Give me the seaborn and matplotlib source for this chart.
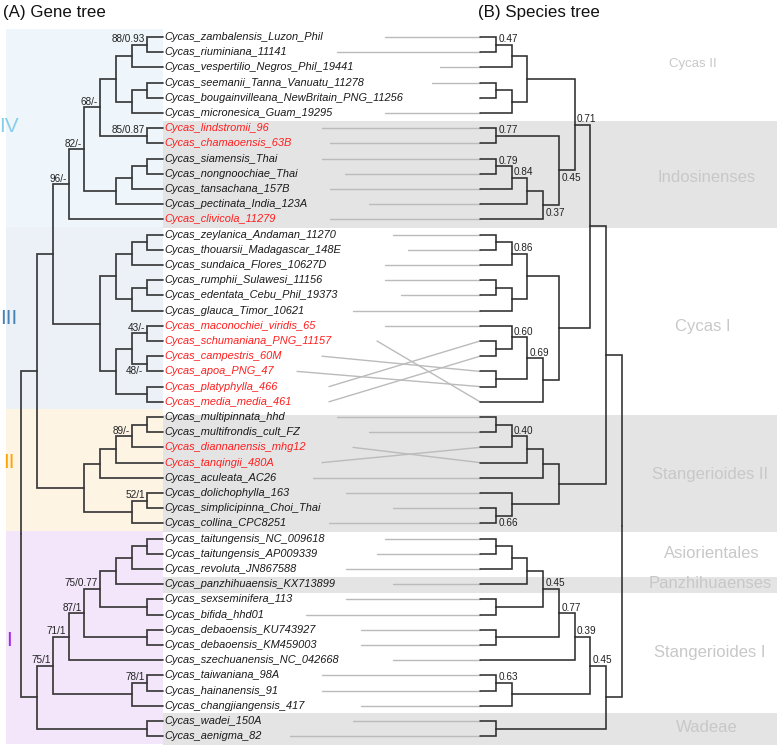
"""
Tanglegram: Cycas gene tree (A) versus species tree (B)
Both trees drawn as cladograms, tips linked by grey lines.
"""

import matplotlib
matplotlib.use("Agg")
import matplotlib.pyplot as plt
import numpy as np
import pandas as pd
import seaborn as sns

# ---------------------------------------------------------------- data
taxa = [
    "Cycas_zambalensis_Luzon_Phil", "Cycas_riuminiana_11141",
    "Cycas_vespertilio_Negros_Phil_19441", "Cycas_seemanii_Tanna_Vanuatu_11278",
    "Cycas_bougainvilleana_NewBritain_PNG_11256", "Cycas_micronesica_Guam_19295",
    "Cycas_lindstromii_96", "Cycas_chamaoensis_63B", "Cycas_siamensis_Thai",
    "Cycas_nongnoochiae_Thai", "Cycas_tansachana_157B", "Cycas_pectinata_India_123A",
    "Cycas_clivicola_11279", "Cycas_zeylanica_Andaman_11270",
    "Cycas_thouarsii_Madagascar_148E", "Cycas_sundaica_Flores_10627D",
    "Cycas_rumphii_Sulawesi_11156", "Cycas_edentata_Cebu_Phil_19373",
    "Cycas_glauca_Timor_10621", "Cycas_maconochiei_viridis_65",
    "Cycas_schumaniana_PNG_11157", "Cycas_campestris_60M", "Cycas_apoa_PNG_47",
    "Cycas_platyphylla_466", "Cycas_media_media_461", "Cycas_multipinnata_hhd",
    "Cycas_multifrondis_cult_FZ", "Cycas_diannanensis_mhg12", "Cycas_tanqingii_480A",
    "Cycas_aculeata_AC26", "Cycas_dolichophylla_163", "Cycas_simplicipinna_Choi_Thai",
    "Cycas_collina_CPC8251", "Cycas_taitungensis_NC_009618",
    "Cycas_taitungensis_AP009339", "Cycas_revoluta_JN867588",
    "Cycas_panzhihuaensis_KX713899", "Cycas_sexseminifera_113", "Cycas_bifida_hhd01",
    "Cycas_debaoensis_KU743927", "Cycas_debaoensis_KM459003",
    "Cycas_szechuanensis_NC_042668", "Cycas_taiwaniana_98A", "Cycas_hainanensis_91",
    "Cycas_changjiangensis_417", "Cycas_wadei_150A", "Cycas_aenigma_82",
]
red_taxa = [6, 7, 12, 19, 20, 21, 22, 23, 24, 27, 28]

# gene tree (leaf ids index into taxa, internal labels = bootstrap/PP)
gene_IV = "((((((0,1)88/0.93,2),((3,4),5)),(6,7)85/0.87)68/-,(((8,9),10),11))82/-,12)96/-"
gene_III = "((((13,14),15),((16,17),18)),(((19,20)43/-,(21,22)),(23,24))48/-)"
gene_II = "(((((25,26),27)89/-,28),29),((30,31)52/1,32))"
gene_I = ("((((((((33,34),35),36),(37,38))75/0.77,(39,40))87/1,41)71/1,"
          "((42,43)78/1,44))75/1,(45,46))")
gene_newick = "(((" + gene_IV + "," + gene_III + ")," + gene_II + ")," + gene_I + ")"

# species tree (local posterior probabilities)
sp_IV = ("((((0,1)0.47,2),((3,4),5)),"
         "((6,7)0.77,((((8,9)0.79,10)0.84,11),12)0.37)0.45)0.71")
sp_III = "((((13,14),15)0.86,((16,17),18)),(((19,(23,24))0.60,(21,22))0.69,20))"
sp_II = "(((((25,26),28)0.40,27),29),(30,(31,32)0.66))"
sp_I = ("((((((((33,34),35),36),(37,38))0.45,(39,40))0.77,41)0.39,"
        "((42,43)0.63,44))0.45,(45,46))")
species_newick = "(((" + sp_IV + "," + sp_III + ")," + sp_II + ")," + sp_I + ")"

# where each grey link leaves the gene-tree side
link_from_x = [385, 337, 440, 432, 479, 385, 322, 330, 322, 345, 330, 369, 330,
               393, 408, 385, 385, 401, 353, 385, 377, 322, 297, 329, 329,
               337, 369, 353, 322, 313, 346, 393, 329,
               385, 377, 346, 393, 346, 306, 361, 361, 393, 322, 322, 361, 353, 290]

clade_names = ["Cycas II", "Indosinenses", "Cycas I", "Stangerioides II",
               "Asiorientales", "Panzhihuaenses", "Stangerioides I", "Wadeae"]
clade_label_y = [64, 177, 327, 475, 554, 583, 652, 728]
clade_label_x = [693, 707, 703, 710, 712, 710, 710, 707]

# grey bands behind the species side: (first tip, last tip, top pad, bottom pad)
grey_bands = [(6, 12), (25, 32), (36, 36), (45, 46)]

lineages = ["IV", "III", "II", "I"]
lineage_tips = [(0, 12), (13, 24), (25, 32), (33, 46)]
lineage_colors = ["#87CEEB", "#4682B4", "#FFA500", "#A526E8"]
lineage_fill = ["#EEF6FC", "#ECF0F7", "#FDF4E4", "#F3E6FB"]
lineage_label_y = [127, 318, 462, 640]

# label placement hints (first leaf, last leaf of the node)
gene_label_right = [(19, 24)]
species_label_below = [(6, 12), (8, 12), (31, 32)]

# ---------------------------------------------------------------- layout
TIP0, STEP = 37.0, 15.2
GENE_TIP_X, SP_TIP_X, LEVEL = 163.0, 480.0, 15.75


def tip_y(row):
    return TIP0 + STEP * row


def parse_newick(s):
    pos = 0

    def token():
        nonlocal pos
        start = pos
        while pos < len(s) and s[pos] not in "(),;":
            pos += 1
        return s[start:pos]

    def node():
        nonlocal pos
        if s[pos] == "(":
            pos += 1
            kids = [node()]
            while s[pos] == ",":
                pos += 1
                kids.append(node())
            pos += 1
            return {"kids": kids, "label": token()}
        return {"leaf": int(token())}

    return node()


def leaf_order(n, out):
    if "leaf" in n:
        out.append(n["leaf"])
    else:
        for k in n["kids"]:
            leaf_order(k, out)
    return out


def layout(tree, row_of, x_of):
    segs, labels = [], []

    def walk(n):
        if "leaf" in n:
            return 0, tip_y(row_of[n["leaf"]]), n["leaf"], n["leaf"]
        res = [walk(k) for k in n["kids"]]
        lvl = max(r[0] for r in res) + 1
        y = (res[0][1] + res[-1][1]) / 2
        x = x_of(lvl)
        for r in res:
            segs.append([(x, y), (x, r[1]), (x_of(r[0]), r[1])])
        if n["label"]:
            labels.append((x, y, n["label"], res[0][2], res[-1][3]))
        return lvl, y, res[0][2], res[-1][3]

    walk(tree)
    return segs, labels


def segs_to_frame(segs):
    rows = []
    for i, pts in enumerate(segs):
        for j, (x, y) in enumerate(pts):
            rows.append({"seg": i, "order": j, "x": x, "y": y})
    return pd.DataFrame(rows)


gene_tree = parse_newick(gene_newick)
species_tree = parse_newick(species_newick)

gene_row = {leaf: i for i, leaf in enumerate(leaf_order(gene_tree, []))}
species_row = {leaf: i for i, leaf in enumerate(leaf_order(species_tree, []))}

gene_segs, gene_labels = layout(gene_tree, gene_row,
                                lambda l: GENE_TIP_X - LEVEL * l)
sp_segs, sp_labels = layout(species_tree, species_row,
                            lambda l: SP_TIP_X + LEVEL * l)

links = []
for leaf in range(len(taxa)):
    links.append([(link_from_x[leaf], tip_y(gene_row[leaf])),
                  (SP_TIP_X, tip_y(species_row[leaf]))])

# ---------------------------------------------------------------- plot
sns.set_style("white")
plt.rcParams["font.family"] = ["Liberation Sans", "DejaVu Sans"]

fig = plt.figure(figsize=(7.77, 7.47), dpi=100)
ax = fig.add_axes([0, 0, 1, 1])

half = STEP / 2
for (a, b), fill in zip(lineage_tips, lineage_fill):
    ax.add_patch(plt.Rectangle((6, tip_y(a) - half), GENE_TIP_X - 6,
                               tip_y(b) - tip_y(a) + STEP,
                               facecolor=fill, edgecolor="none", zorder=0))
for a, b in grey_bands:
    top = tip_y(a) - half + (6 if a == 25 else 0)
    ax.add_patch(plt.Rectangle((GENE_TIP_X, top), 777 - GENE_TIP_X,
                               tip_y(b) + half + 1 - top,
                               facecolor="#E4E4E4", edgecolor="none", zorder=0))

sns.lineplot(data=segs_to_frame(links), x="x", y="y", units="seg",
             estimator=None, sort=False, color="#BBBBBB", linewidth=1.0,
             ax=ax, legend=False, zorder=1)
sns.lineplot(data=segs_to_frame(gene_segs), x="x", y="y", units="seg",
             estimator=None, sort=False, color="#3A3A3A", linewidth=1.25,
             solid_joinstyle="miter", ax=ax, legend=False, zorder=2)
sns.lineplot(data=segs_to_frame(sp_segs), x="x", y="y", units="seg",
             estimator=None, sort=False, color="#2E2E2E", linewidth=1.15,
             solid_joinstyle="miter", ax=ax, legend=False, zorder=2)

# tip labels
for leaf, name in enumerate(taxa):
    ax.text(GENE_TIP_X + 1.5, tip_y(gene_row[leaf]), name, fontsize=7.9,
            style="italic", ha="left", va="center",
            color="#FF1E1E" if leaf in red_taxa else "#1A1A1A", zorder=3)

# support values
for x, y, lab, a, b in gene_labels:
    if (a, b) in gene_label_right:
        ax.text(x + 10, y, lab, fontsize=7.2, ha="left", va="center",
                color="#222222", zorder=3)
    else:
        ax.text(x - 2, y - 0.5, lab, fontsize=7.2, ha="right", va="bottom",
                color="#222222", zorder=3)
for x, y, lab, a, b in sp_labels:
    if (species_row[a], species_row[b]) in species_label_below:
        ax.text(x + 3, y + 2.5, lab, fontsize=7.2, ha="left", va="top",
                color="#222222", zorder=3)
    else:
        ax.text(x + 2.5, y - 0.5, lab, fontsize=7.2, ha="left", va="bottom",
                color="#222222", zorder=3)

# lineage numerals
for name, col, y in zip(lineages, lineage_colors, lineage_label_y):
    ax.text(8.5, y, name, fontsize=15, ha="center", va="center", color=col,
            zorder=3)

# clade names on the right
for name, x, y in zip(clade_names, clade_label_x, clade_label_y):
    ax.text(x, y, name, fontsize=9.5 if name == "Cycas II" else 12,
            ha="center", va="center", color="#C8C8C8", zorder=3)

ax.text(3, 12, "(A) Gene tree", fontsize=12.2, ha="left", va="center",
        color="#111111")
ax.text(478, 12, "(B) Species tree", fontsize=12.2, ha="left", va="center",
        color="#111111")

ax.set_xlim(0, 777)
ax.set_ylim(747, 0)
ax.axis("off")

fig.savefig("out.png", dpi=100)
print("saved out.png")
